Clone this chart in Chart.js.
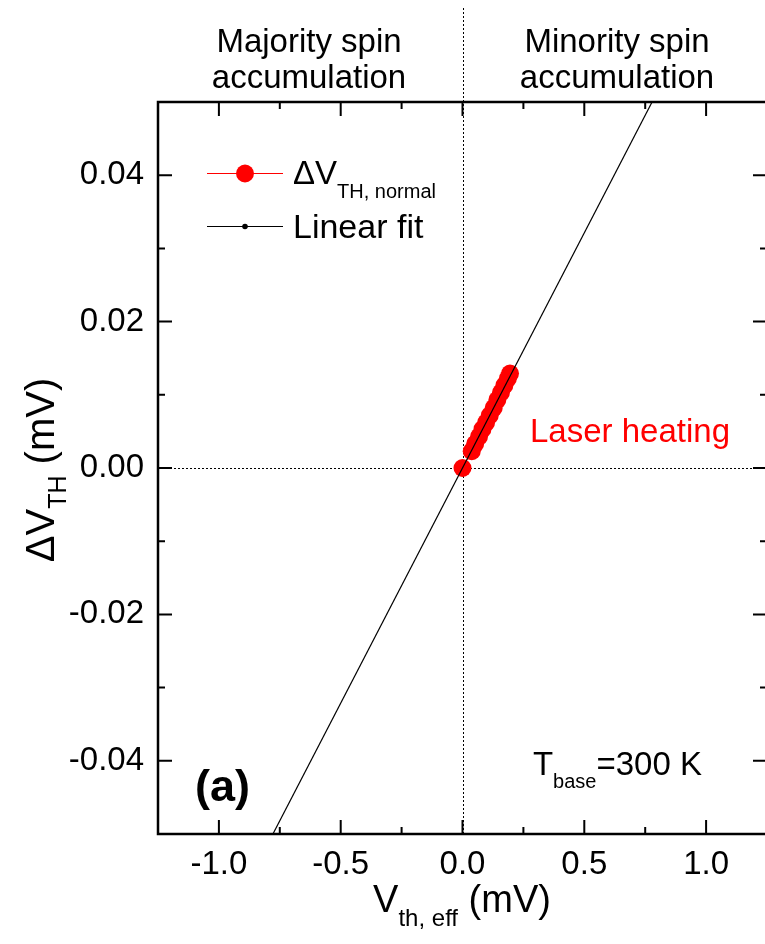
<!DOCTYPE html>
<html>
<head>
<meta charset="utf-8">
<script src="https://cdn.jsdelivr.net/npm/chart.js"></script>
<style>
html, body { margin: 0; padding: 0; background: #fff; overflow: hidden; }
#wrap { width: 780px; height: 944px; }
</style>
</head>
<body>
<div id="wrap"><canvas id="chart" width="780" height="944"></canvas></div>
<script>
// 測量數據 (mV)
const dataX = [0, 0.038, 0.052, 0.068, 0.082, 0.097, 0.112, 0.128, 0.143, 0.158, 0.172, 0.186, 0.195];
const dataY = [0, 0.0023, 0.0033, 0.0043, 0.0053, 0.0062, 0.0072, 0.0082, 0.0093, 0.0103, 0.0113, 0.0122, 0.0129];

// 線性擬合端點
const fitX = [-0.8, 0.8];
const fitY = [-0.0514, 0.0514];

// 刻度
const xMajorTicks = [-1.0, -0.5, 0, 0.5, 1.0];
const xMinorTicks = [-0.75, -0.25, 0.25, 0.75];
const yMajorTicks = [-0.04, -0.02, 0, 0.02, 0.04];
const yMinorTicks = [-0.03, -0.01, 0.01, 0.03];

const FONT = '"Liberation Sans", Arial, sans-serif';

// 畫帶下標的文字
function subText(ctx, parts, x, y, align) {
    // parts: [text, size, dy]
    let total = 0;
    parts.forEach(p => {
        ctx.font = p[1] + 'px ' + FONT;
        total += ctx.measureText(p[0]).width;
    });
    let cx = align === 'center' ? x - total / 2 : (align === 'right' ? x - total : x);
    ctx.textAlign = 'left';
    ctx.textBaseline = 'alphabetic';
    parts.forEach(p => {
        ctx.font = p[1] + 'px ' + FONT;
        ctx.fillText(p[0], cx, y + p[2]);
        cx += ctx.measureText(p[0]).width;
    });
}

const decorPlugin = {
    id: 'decor',
    beforeDatasetsDraw(chart) {
        const ctx = chart.ctx;
        const a = chart.chartArea;
        const xs = chart.scales.x, ys = chart.scales.y;
        const x0 = Math.round(xs.getPixelForValue(0)) + 0.5;
        const y0 = Math.round(ys.getPixelForValue(0)) + 0.5;
        ctx.save();
        ctx.strokeStyle = '#000';
        ctx.lineWidth = 1;
        ctx.setLineDash([2, 2]);
        ctx.beginPath();
        ctx.moveTo(x0, 8);
        ctx.lineTo(x0, a.bottom);
        ctx.moveTo(a.left, y0);
        ctx.lineTo(a.right, y0);
        ctx.stroke();
        ctx.restore();
    },
    afterDraw(chart) {
        const ctx = chart.ctx;
        const a = chart.chartArea;
        const xs = chart.scales.x, ys = chart.scales.y;
        ctx.save();
        ctx.strokeStyle = '#000';
        ctx.lineWidth = 2.5;
        ctx.strokeRect(a.left, a.top, a.right - a.left, a.bottom - a.top);

        // 向內刻度
        ctx.lineWidth = 2;
        ctx.beginPath();
        const xTick = (v, len) => {
            const px = xs.getPixelForValue(v);
            ctx.moveTo(px, a.bottom);
            ctx.lineTo(px, a.bottom - len);
            ctx.moveTo(px, a.top);
            ctx.lineTo(px, a.top + len);
        };
        const yTick = (v, len) => {
            const py = ys.getPixelForValue(v);
            ctx.moveTo(a.left, py);
            ctx.lineTo(a.left + len, py);
            ctx.moveTo(a.right, py);
            ctx.lineTo(a.right - len, py);
        };
        xMajorTicks.forEach(v => xTick(v, 14));
        xMinorTicks.forEach(v => xTick(v, 7));
        yMajorTicks.forEach(v => yTick(v, 14));
        yMinorTicks.forEach(v => yTick(v, 7));
        ctx.stroke();

        ctx.fillStyle = '#000';
        // 軸標題
        subText(ctx, [['V', 38, 0], ['th, eff', 24, 14], [' (mV)', 38, 0]], 462, 912, 'center');
        ctx.save();
        ctx.translate(54, 470);
        ctx.rotate(-Math.PI / 2);
        subText(ctx, [['\u0394V', 40, 0], ['TH', 25, 12], [' (mV)', 40, 0]], 0, 0, 'center');
        ctx.restore();

        // 頂部說明
        ctx.font = '33px ' + FONT;
        ctx.textAlign = 'center';
        ctx.textBaseline = 'alphabetic';
        ctx.fillText('Majority spin', 309, 52);
        ctx.fillText('accumulation', 309, 88);
        ctx.fillText('Minority spin', 617, 52);
        ctx.fillText('accumulation', 617, 88);

        // 圖例
        ctx.lineWidth = 1.2;
        ctx.strokeStyle = '#ff0000';
        ctx.beginPath();
        ctx.moveTo(207, 173.5);
        ctx.lineTo(283, 173.5);
        ctx.stroke();
        ctx.fillStyle = '#ff0000';
        ctx.beginPath();
        ctx.arc(245, 173.5, 9, 0, Math.PI * 2);
        ctx.fill();
        ctx.strokeStyle = '#000';
        ctx.beginPath();
        ctx.moveTo(207, 226.5);
        ctx.lineTo(283, 226.5);
        ctx.stroke();
        ctx.fillStyle = '#000';
        ctx.beginPath();
        ctx.arc(245, 226.5, 2.8, 0, Math.PI * 2);
        ctx.fill();
        subText(ctx, [['\u0394V', 33, 0], ['TH, normal', 20, 14]], 293, 184, 'left');
        subText(ctx, [['Linear fit', 34, 0]], 293, 238, 'left');

        // 標註
        ctx.fillStyle = '#ff0000';
        subText(ctx, [['Laser heating', 33, 0]], 530, 442, 'left');
        ctx.fillStyle = '#000';
        ctx.font = 'bold 45px ' + FONT;
        ctx.textAlign = 'left';
        ctx.fillText('(a)', 195, 801);
        subText(ctx, [['T', 33, 0], ['base', 20, 13], ['=300 K', 33, 0]], 702, 775, 'right');
        ctx.restore();
    }
};

const ctx = document.getElementById('chart').getContext('2d');
new Chart(ctx, {
    type: 'scatter',
    data: {
        datasets: [{
            label: 'Linear fit',
            data: fitX.map((x, i) => ({ x: x, y: fitY[i] })),
            showLine: true,
            borderColor: '#000',
            borderWidth: 1.2,
            pointRadius: 0,
            order: 0
        }, {
            label: '\u0394V TH, normal',
            data: dataX.map((x, i) => ({ x: x, y: dataY[i] })),
            showLine: true,
            borderColor: '#ff0000',
            borderWidth: 1,
            backgroundColor: '#ff0000',
            pointBackgroundColor: '#ff0000',
            pointBorderWidth: 0,
            pointRadius: 9,
            order: 1
        }]
    },
    options: {
        responsive: false,
        animation: false,
        layout: { padding: { top: 102, right: 13, left: 0, bottom: 0 } },
        plugins: {
            legend: { display: false },
            tooltip: { enabled: false }
        },
        scales: {
            x: {
                type: 'linear',
                min: -1.25,
                max: 1.25,
                afterBuildTicks: s => { s.ticks = xMajorTicks.map(v => ({ value: v })); },
                afterFit: s => { s.height = 110; },
                grid: { display: false, drawTicks: false },
                border: { display: false },
                ticks: {
                    padding: 11,
                    color: '#000',
                    font: { family: FONT, size: 33 },
                    maxRotation: 0,
                    callback: v => v.toFixed(1)
                }
            },
            y: {
                type: 'linear',
                min: -0.05,
                max: 0.05,
                afterBuildTicks: s => { s.ticks = yMajorTicks.map(v => ({ value: v })); },
                afterFit: s => { s.width = 158; },
                grid: { display: false, drawTicks: false },
                border: { display: false },
                ticks: {
                    padding: 14,
                    color: '#000',
                    font: { family: FONT, size: 33 },
                    callback: v => v.toFixed(2)
                }
            }
        }
    },
    plugins: [decorPlugin]
});
</script>
</body>
</html>
